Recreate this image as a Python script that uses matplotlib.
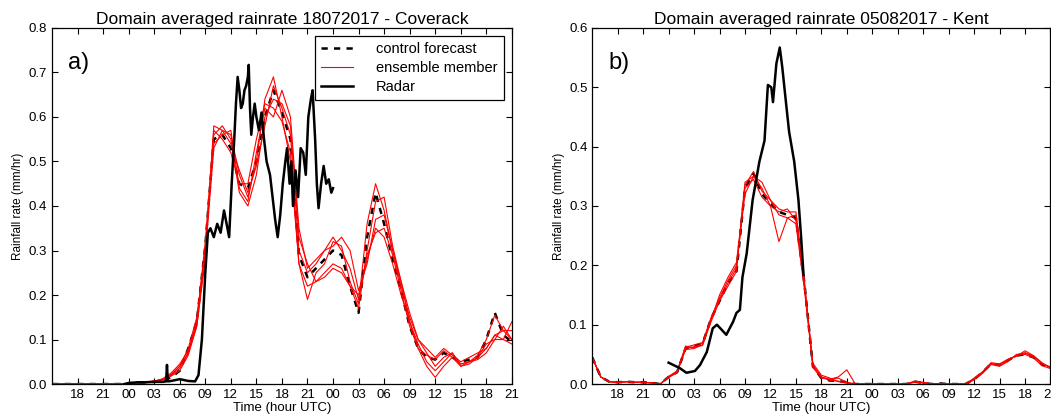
import matplotlib
matplotlib.use('Agg')
import matplotlib.pyplot as plt
import numpy as np

plt.rcParams['font.family'] = ['Liberation Sans', 'DejaVu Sans']

# hours relative to 00 UTC of the first full day
hours = list(range(-9, 46))
tick_hours = list(range(-6, 46, 3))
tick_labels = ['%02d' % (h % 24) for h in tick_hours]

# ---- 18072017 Coverack ----
cov_control = [0, 0, 0, 0, 0, 0, 0, 0, 0,
               0.002, 0.003, 0.004, 0.005, 0.008, 0.015, 0.03, 0.08, 0.14,
               0.31, 0.55, 0.56, 0.53, 0.45, 0.44, 0.50, 0.60, 0.66, 0.61,
               0.55, 0.29, 0.24, 0.26, 0.28, 0.30, 0.29, 0.22, 0.16, 0.33,
               0.43, 0.36, 0.28, 0.21, 0.13, 0.08, 0.06, 0.055, 0.07, 0.06,
               0.05, 0.055, 0.06, 0.10, 0.16, 0.11, 0.095]
cov_members = [
    [0, 0, 0, 0, 0, 0, 0, 0, 0,
     0.002, 0.003, 0.004, 0.006, 0.01, 0.02, 0.035, 0.07, 0.13,
     0.30, 0.58, 0.57, 0.56, 0.47, 0.42, 0.50, 0.64, 0.69, 0.60,
     0.50, 0.27, 0.19, 0.25, 0.27, 0.32, 0.31, 0.23, 0.18, 0.36,
     0.45, 0.39, 0.30, 0.22, 0.15, 0.10, 0.07, 0.04, 0.06, 0.07,
     0.045, 0.05, 0.065, 0.10, 0.155, 0.12, 0.10],
    [0, 0, 0, 0, 0, 0, 0, 0, 0,
     0.001, 0.002, 0.004, 0.006, 0.012, 0.025, 0.045, 0.075, 0.14,
     0.32, 0.56, 0.58, 0.55, 0.43, 0.40, 0.47, 0.60, 0.64, 0.63,
     0.58, 0.33, 0.27, 0.23, 0.24, 0.26, 0.25, 0.22, 0.20, 0.28,
     0.35, 0.33, 0.27, 0.20, 0.14, 0.08, 0.04, 0.015, 0.04, 0.06,
     0.04, 0.045, 0.06, 0.08, 0.11, 0.10, 0.14],
    [0, 0, 0, 0, 0, 0, 0, 0, 0,
     0.002, 0.003, 0.005, 0.007, 0.011, 0.02, 0.04, 0.08, 0.15,
     0.30, 0.54, 0.56, 0.57, 0.44, 0.41, 0.52, 0.62, 0.60, 0.66,
     0.60, 0.35, 0.26, 0.28, 0.30, 0.31, 0.33, 0.30, 0.21, 0.27,
     0.37, 0.38, 0.30, 0.23, 0.16, 0.10, 0.08, 0.06, 0.08, 0.065,
     0.05, 0.06, 0.07, 0.08, 0.11, 0.12, 0.12],
    [0, 0, 0, 0, 0, 0, 0, 0, 0,
     0.001, 0.002, 0.003, 0.005, 0.009, 0.018, 0.03, 0.065, 0.13,
     0.28, 0.57, 0.55, 0.52, 0.45, 0.45, 0.55, 0.63, 0.62, 0.59,
     0.52, 0.27, 0.22, 0.23, 0.25, 0.27, 0.26, 0.22, 0.17, 0.30,
     0.41, 0.42, 0.31, 0.23, 0.14, 0.09, 0.05, 0.03, 0.05, 0.07,
     0.04, 0.05, 0.06, 0.09, 0.10, 0.10, 0.09],
    [0, 0, 0, 0, 0, 0, 0, 0, 0,
     0.002, 0.003, 0.004, 0.006, 0.01, 0.022, 0.04, 0.07, 0.14,
     0.30, 0.53, 0.57, 0.54, 0.48, 0.43, 0.49, 0.58, 0.67, 0.62,
     0.56, 0.30, 0.25, 0.27, 0.30, 0.33, 0.30, 0.26, 0.19, 0.29,
     0.34, 0.35, 0.29, 0.21, 0.13, 0.08, 0.065, 0.055, 0.075, 0.06,
     0.045, 0.05, 0.055, 0.07, 0.10, 0.13, 0.10],
]
cov_radar_t = [-0.5, 0, 1, 2, 3, 4, 4.4, 4.5, 4.6, 5, 6, 7, 7.8, 8.2, 8.6,
               9, 9.3, 9.6, 10, 10.4, 10.8, 11.2, 11.5, 11.8, 12.1, 12.4,
               12.6, 12.8, 13.0, 13.2, 13.4, 13.6, 13.8, 14.0, 14.1, 14.25,
               14.4, 14.6, 14.8, 15.0, 15.3, 15.6, 15.9, 16.2, 16.6, 16.9,
               17.2, 17.5, 17.8, 18.1, 18.4, 18.6, 18.9, 19.1, 19.3, 19.6,
               19.9, 20.2, 20.5, 20.8, 21.1, 21.4, 21.6, 21.9, 22.1, 22.3,
               22.6, 22.9, 23.2, 23.5, 23.8, 24.0]
cov_radar = [0.0, 0.002, 0.004, 0.004, 0.005, 0.005, 0.006, 0.043, 0.006,
             0.007, 0.011, 0.007, 0.006, 0.02, 0.10, 0.25, 0.34, 0.35, 0.33,
             0.36, 0.34, 0.39, 0.36, 0.33, 0.45, 0.55, 0.63, 0.69, 0.66,
             0.62, 0.63, 0.66, 0.67, 0.69, 0.717, 0.62, 0.56, 0.60, 0.63,
             0.60, 0.57, 0.61, 0.55, 0.50, 0.47, 0.42, 0.37, 0.33, 0.38,
             0.45, 0.50, 0.53, 0.45, 0.50, 0.40, 0.48, 0.42, 0.53, 0.52,
             0.47, 0.60, 0.64, 0.66, 0.55, 0.45, 0.395, 0.45, 0.49, 0.45,
             0.46, 0.43, 0.44]

# ---- 05082017 Kent ----
kent_control = [0.045, 0.012, 0.004, 0.003, 0.004, 0.003, 0.003, 0.002, 0.0,
                0.012, 0.02, 0.06, 0.064, 0.068, 0.11, 0.14, 0.17, 0.19,
                0.33, 0.355, 0.32, 0.305, 0.29, 0.285, 0.28, 0.17, 0.03, 0.01,
                0.006, 0.005, 0.003, 0.0, 0.0, 0.0, 0.0, 0.0, 0.0, 0.0,
                0.004, 0.002, 0.0, 0.001, 0.0, 0.0, 0.0, 0.008, 0.02, 0.034,
                0.032, 0.04, 0.048, 0.05, 0.045, 0.033, 0.027]
kent_members = [
    [0.045, 0.012, 0.004, 0.003, 0.004, 0.003, 0.003, 0.002, 0.0,
     0.013, 0.022, 0.062, 0.066, 0.07, 0.11, 0.145, 0.175, 0.2,
     0.32, 0.35, 0.33, 0.30, 0.24, 0.28, 0.27, 0.16, 0.03, 0.012,
     0.008, 0.012, 0.024, 0.0, 0.0, 0.0, 0.0, 0.0, 0.0, 0.0,
     0.003, 0.002, 0.0, 0.001, 0.0, 0.0, 0.0, 0.008, 0.018, 0.033,
     0.03, 0.038, 0.05, 0.052, 0.046, 0.035, 0.028],
    [0.045, 0.012, 0.004, 0.003, 0.004, 0.003, 0.003, 0.002, 0.0,
     0.012, 0.02, 0.058, 0.06, 0.066, 0.105, 0.14, 0.165, 0.19,
     0.34, 0.35, 0.34, 0.31, 0.295, 0.29, 0.29, 0.17, 0.035, 0.015,
     0.01, 0.004, 0.002, 0.0, 0.0, 0.0, 0.0, 0.0, 0.0, 0.0,
     0.005, 0.003, 0.0, 0.001, 0.0, 0.0, 0.0, 0.01, 0.02, 0.036,
     0.034, 0.042, 0.047, 0.056, 0.048, 0.036, 0.027],
    [0.045, 0.012, 0.004, 0.003, 0.004, 0.003, 0.003, 0.002, 0.0,
     0.011, 0.019, 0.06, 0.063, 0.065, 0.108, 0.15, 0.18, 0.205,
     0.33, 0.345, 0.315, 0.30, 0.29, 0.295, 0.275, 0.175, 0.028, 0.01,
     0.008, 0.01, 0.003, 0.0, 0.0, 0.0, 0.0, 0.0, 0.0, 0.0,
     0.004, 0.002, 0.0, 0.001, 0.0, 0.0, 0.0, 0.007, 0.021, 0.035,
     0.031, 0.04, 0.049, 0.05, 0.044, 0.031, 0.026],
    [0.045, 0.012, 0.004, 0.003, 0.004, 0.003, 0.003, 0.002, 0.0,
     0.012, 0.021, 0.064, 0.061, 0.069, 0.112, 0.142, 0.17, 0.195,
     0.335, 0.358, 0.325, 0.31, 0.285, 0.28, 0.285, 0.165, 0.032, 0.012,
     0.006, 0.005, 0.002, 0.0, 0.0, 0.0, 0.0, 0.0, 0.0, 0.0,
     0.004, 0.002, 0.0, 0.001, 0.0, 0.0, 0.0, 0.009, 0.019, 0.034,
     0.033, 0.041, 0.047, 0.053, 0.047, 0.034, 0.029],
]
kent_radar_t = [0, 1.3, 2.1, 3.1, 3.7, 4.5, 5.2, 5.7, 6.8, 7.6, 8.0, 8.4,
                8.7, 9.2, 9.9, 10.7, 11.3, 11.7, 12.1, 12.3, 12.7, 13.1, 13.4,
                13.9, 14.2, 14.8, 15.3, 15.6, 15.9]
kent_radar = [0.036, 0.027, 0.019, 0.022, 0.032, 0.054, 0.094, 0.10, 0.083,
              0.105, 0.12, 0.125, 0.18, 0.22, 0.31, 0.375, 0.41, 0.504, 0.50,
              0.475, 0.54, 0.567, 0.533, 0.465, 0.425, 0.375, 0.31, 0.25,
              0.184]

fig = plt.figure(figsize=(10.51, 4.17), dpi=100)
ax1 = fig.add_axes([0.0495, 0.079, 0.4375, 0.854])
ax2 = fig.add_axes([0.5635, 0.079, 0.436, 0.854])


def draw(ax, control, members, rt, radar, ymax, title, tag, legend=False):
    ax.plot(hours, control, color='black', linestyle=(0, (2.5, 2.5)),
            linewidth=1.8, label='control forecast')
    for i, m in enumerate(members):
        ax.plot(hours, m, color='red', linewidth=0.8,
                label='ensemble member' if i == 0 else None)
    ax.plot(rt, radar, color='black', linewidth=1.8, label='Radar')
    ax.set_xlim(-9, 45)
    ax.set_ylim(0, ymax)
    ax.set_xticks(tick_hours)
    ax.set_xticklabels(tick_labels)
    yt = np.arange(0, ymax + 0.01, 0.1)
    ax.set_yticks(yt)
    ax.set_yticklabels(['%.1f' % v for v in yt])
    ax.tick_params(direction='in', top=True, right=True, labelsize=9.5,
                   length=4, width=0.8)
    ax.set_xlabel('Time (hour UTC)', fontsize=9.5, labelpad=1)
    ax.set_ylabel('Rainfall rate (mm/hr)', fontsize=8.5, labelpad=3)
    ax.set_title(title, fontsize=12.5, pad=3)
    ax.text(0.035, 0.885, tag, transform=ax.transAxes, fontsize=17)
    for s in ax.spines.values():
        s.set_linewidth(0.9)
    if legend:
        leg = ax.legend(loc='upper right', bbox_to_anchor=(0.982, 0.978),
                        borderaxespad=0, fancybox=False, edgecolor='black',
                        framealpha=1, fontsize=10.5, handlelength=2.2,
                        handletextpad=1.6, labelspacing=0.35)
        leg.get_frame().set_linewidth(0.9)


draw(ax1, cov_control, cov_members, cov_radar_t, cov_radar, 0.8,
     'Domain averaged rainrate 18072017 - Coverack', 'a)', legend=True)
draw(ax2, kent_control, kent_members, kent_radar_t, kent_radar, 0.6,
     'Domain averaged rainrate 05082017 - Kent', 'b)')

fig.savefig('out.png', dpi=100)
